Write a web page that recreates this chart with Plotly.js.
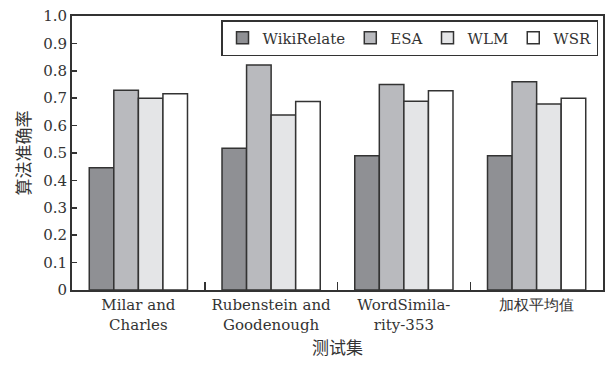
<!DOCTYPE html>
<html>
<head>
<meta charset="utf-8">
<script src="https://cdn.plot.ly/plotly-3.0.1.min.js"></script>
<style>
html,body{margin:0;padding:0;background:#fff;}
#chart{width:612px;height:371px;}
</style>
</head>
<body>
<div id="chart"></div>
<script>
const categories = ["Milar and<br>Charles", "Rubenstein and<br>Goodenough", "WordSimila-<br>rity-353", "加权平均值"];
const wikiRelate = [0.446, 0.517, 0.490, 0.490];
const esa = [0.729, 0.821, 0.750, 0.760];
const wlm = [0.700, 0.639, 0.689, 0.679];
const wsr = [0.716, 0.688, 0.727, 0.700];
const seriesNames = ["WikiRelate", "ESA", "WLM", "WSR"];
const yTickVals = [0, 0.1, 0.2, 0.3, 0.4, 0.5, 0.6, 0.7, 0.8, 0.9, 1.0];
const yTickText = ["0", "0.1", "0.2", "0.3", "0.4", "0.5", "0.6", "0.7", "0.8", "0.9", "1.0"];

const serif = 'DejaVu Serif';
const cjk = 'Noto Sans CJK SC';
const colors = ["#8f9094", "#b9babe", "#e4e5e7", "#ffffff"];
const values = [wikiRelate, esa, wlm, wsr];

const traces = values.map((v, i) => ({
  type: 'bar',
  name: seriesNames[i],
  x: categories,
  y: v,
  marker: {color: colors[i], line: {color: '#333333', width: 1.5}}
}));

const layout = {
  width: 612, height: 371,
  margin: {l: 72, r: 9, t: 16, b: 81},
  paper_bgcolor: '#ffffff', plot_bgcolor: '#ffffff',
  barmode: 'group', bargap: 0.26, bargroupgap: 0,
  font: {family: serif, size: 15, color: '#333333'},
  showlegend: true,
  legend: {
    orientation: 'h', x: 0.9906, xanchor: 'right', y: 0.985, yanchor: 'top',
    bordercolor: '#333333', borderwidth: 1.5, bgcolor: '#ffffff',
    font: {family: serif, size: 15, color: '#333333'},
    itemwidth: 30, tracegroupgap: 0
  },
  xaxis: {
    type: 'category',
    showline: true, linecolor: '#333333', linewidth: 2, mirror: true,
    ticks: 'inside', ticklen: 8, tickcolor: '#333333', tickwidth: 1.5,
    tickson: 'boundaries', tickangle: 0,
    tickfont: {family: serif, size: 15, color: '#333333'},
    showgrid: false, zeroline: false,
    title: {text: '测试集', font: {family: cjk, size: 17, color: '#333333'}, standoff: 10}
  },
  yaxis: {
    range: [0, 1.0],
    tickvals: yTickVals, ticktext: yTickText,
    showline: true, linecolor: '#333333', linewidth: 2, mirror: true,
    ticks: 'inside', ticklen: 5, tickcolor: '#333333', tickwidth: 1.5,
    tickfont: {family: serif, size: 15, color: '#333333'},
    showgrid: false, zeroline: false,
    title: {text: '算法准确率', font: {family: cjk, size: 17, color: '#333333'}, standoff: 8}
  }
};

Plotly.newPlot('chart', traces, layout, {displayModeBar: false, staticPlot: true});
</script>
</body>
</html>
